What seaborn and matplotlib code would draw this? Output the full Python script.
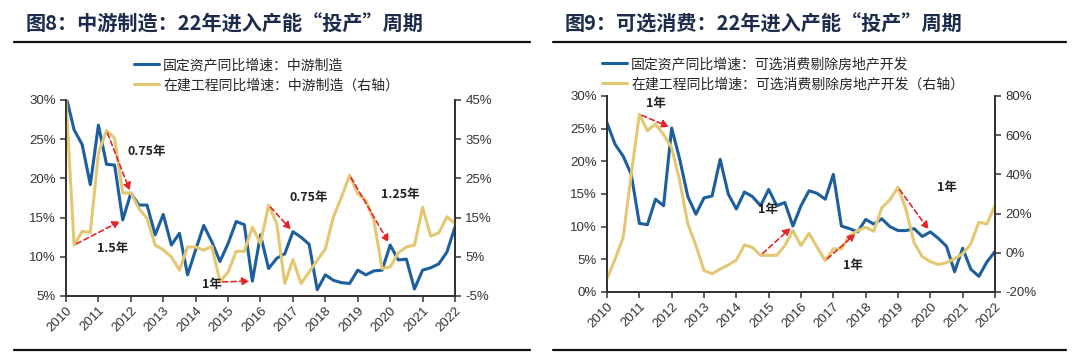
import numpy as np
import matplotlib
matplotlib.use("Agg")
import matplotlib.pyplot as plt
from matplotlib.lines import Line2D
from matplotlib.ticker import PercentFormatter
import seaborn as sns

# quarterly points, 2010Q1 .. 2022Q1
quarters = np.arange(2010, 2022.01, 0.25)
years = list(range(2010, 2023))

# Fig 8: midstream manufacturing
mid_fai = [30.5, 26.2, 24.3, 19.2, 26.8, 21.8, 21.7, 14.7, 18.1, 16.6, 16.6, 12.8, 15.4, 11.5, 13.0, 7.7,
           10.9, 14.0, 11.9, 9.4, 11.7, 14.5, 14.1, 6.9, 12.8, 8.5, 9.8, 10.4, 13.2, 12.5, 11.6, 5.8,
           7.7, 7.0, 6.7, 6.6, 8.3, 7.7, 8.2, 8.3, 11.5, 9.6, 9.7, 5.9, 8.3, 8.6, 9.1, 10.6, 13.8]
mid_cip = [45.0, 8.0, 11.5, 11.2, 31.4, 37.2, 35.2, 21.3, 21.3, 17.3, 14.8, 8.0, 6.8, 5.0, 1.6, 7.5,
           7.5, 6.7, 7.7, -1.4, 1.1, 6.4, 6.4, 12.6, 8.4, 18.2, 13.5, -1.8, 4.3, -1.8, 1.1, 4.1,
           7.0, 15.2, 20.3, 25.8, 21.1, 19.4, 14.3, 2.0, 2.4, 6.0, 7.5, 8.0, 17.6, 10.3, 11.1, 15.2, 13.5]

# Fig 9: discretionary consumption ex real estate
con_fai = [25.9, 22.6, 20.8, 18.0, 10.5, 10.3, 14.2, 13.2, 25.1, 20.3, 14.6, 11.9, 14.4, 14.7, 20.3,
           15.0, 12.7, 15.3, 14.6, 13.2, 15.7, 13.2, 13.7, 10.1, 13.2, 15.5, 15.1, 14.2, 18.0,
           10.1, 9.7, 9.2, 11.1, 10.4, 11.2, 10.0, 9.4, 9.4, 9.7, 8.5, 9.2, 8.2, 7.0, 3.1, 6.7, 3.5, 2.4, 4.6, 6.2]
con_cip = [-13.3, -3.2, 7.8, 40.0, 70.7, 62.3, 65.7, 60.3, 53.6, 36.7, 14.7, 3.7, -9.0, -10.7, -8.3, -6.2,
           -3.7, 4.0, 2.7, -1.3, -1.3, -1.3, 3.7, 11.3, 3.7, 10.0, 2.7, -4.0, 2.0, 2.0, 8.6, 11.3,
           13.0, 11.0, 23.0, 27.0, 33.4, 22.0, 5.0, -2.0, -4.5, -6.0, -5.0, -3.0, -0.5, 4.5, 15.6, 14.7, 24.1]

# lag arrows: (cip index, fai index, label)
mid_lags = [(1, 7, "1.5年"), (5, 8, "0.75年"), (19, 23, "1年"), (25, 28, "0.75年"), (35, 40, "1.25年")]
con_lags = [(4, 8, "1年"), (19, 23, "1年"), (27, 31, "1年"), (36, 40, "1年")]

titles = ["图8：中游制造：22年进入产能“投产”周期", "图9：可选消费：22年进入产能“投产”周期"]
mid_labels = ["固定资产同比增速：中游制造", "在建工程同比增速：中游制造（右轴）"]
con_labels = ["固定资产同比增速：可选消费剔除房地产开发", "在建工程同比增速：可选消费剔除房地产开发（右轴）"]

BLUE = "#1c5f9c"
GOLD = "#e3c772"
RED = "#e0262b"
NAVY = "#1c2b4a"

sns.set_style("ticks")
plt.rcParams["font.family"] = ["Noto Sans CJK SC", "DejaVu Sans"]
plt.rcParams["axes.unicode_minus"] = False


def draw_panel(fig, rect, fai, cip, labels, lags, lims, rlims, ticks, rticks, text_pos, legend_pos):
    ax = fig.add_axes(rect)
    ax2 = ax.twinx()
    sns.lineplot(x=quarters, y=fai, ax=ax, color=BLUE, lw=2.2, legend=False)
    sns.lineplot(x=quarters, y=cip, ax=ax2, color=GOLD, lw=2.2, legend=False)

    ax.set_xlim(2010, 2022)
    ax.set_ylim(*lims)
    ax2.set_ylim(*rlims)
    ax.set_yticks(ticks)
    ax2.set_yticks(rticks)
    ax.yaxis.set_major_formatter(PercentFormatter(decimals=0))
    ax2.yaxis.set_major_formatter(PercentFormatter(decimals=0))
    ax.set_xticks(years)
    ax.set_xticklabels([str(y) for y in years], rotation=45, ha="right", rotation_mode="anchor")
    for a in (ax, ax2):
        a.spines["top"].set_visible(False)
        for s in ("left", "right", "bottom"):
            a.spines[s].set_color("#333333")
            a.spines[s].set_linewidth(1.3)
        a.tick_params(labelsize=9.5, colors="#333333", length=4, width=1.1)
        for lab in a.get_xticklabels() + a.get_yticklabels():
            lab.set_fontfamily("Liberation Sans")
    ax.tick_params(axis="x", pad=2)

    # dashed red lag arrows, cip point (right axis) -> fai point (left axis)
    for (ci, fi, txt), (tx, ty) in zip(lags, text_pos):
        ax2.annotate("", xy=(quarters[fi], fai[fi]), xycoords=ax.transData,
                     xytext=(quarters[ci], cip[ci]), textcoords=ax2.transData,
                     arrowprops=dict(arrowstyle="-|>", linestyle=(0, (3, 2)), color=RED,
                                     lw=1.2, mutation_scale=11, shrinkA=2, shrinkB=2))
        ax2.text(tx, ty, txt, transform=ax.transData, fontsize=9, fontweight="bold",
                 color="#222222", ha="center", va="center")

    handles = [Line2D([], [], color=BLUE, lw=2.2), Line2D([], [], color=GOLD, lw=2.2)]
    fig.legend(handles, labels, loc="upper left", bbox_to_anchor=legend_pos, frameon=False,
               fontsize=10, handlelength=1.8, handletextpad=0.3, labelspacing=0.45,
               borderpad=0, borderaxespad=0)
    ax.set_xlabel("")
    ax.set_ylabel("")
    ax2.set_ylabel("")
    return ax, ax2


fig = plt.figure(figsize=(10.8, 3.61), dpi=100)

draw_panel(fig, [66 / 1080, 1 - 296 / 361, 389 / 1080, 196 / 361], mid_fai, mid_cip, mid_labels, mid_lags,
           (5, 30), (-5, 45), range(5, 31, 5), range(-5, 46, 10),
           [(2011.45, 11.0), (2012.5, 23.4), (2014.5, 6.5), (2017.5, 17.6), (2020.3, 18.0)],
           (134 / 1080, 1 - 58 / 361))
draw_panel(fig, [607 / 1080, 1 - 292 / 361, 388 / 1080, 196 / 361], con_fai, con_cip, con_labels, con_lags,
           (0, 30), (-20, 80), range(0, 31, 5), range(-20, 81, 20),
           [(2011.5, 28.9), (2014.97, 12.7), (2017.6, 4.1), (2020.5, 16.0)],
           (602 / 1080, 1 - 57 / 361))

# titles and rules
for x0, x1, tx, title in [(14, 530, 26, titles[0]), (553, 1066, 565, titles[1])]:
    fig.text(tx / 1080, 1 - 24 / 361, title, fontsize=14.5, fontweight="bold", color=NAVY,
             ha="left", va="center")
    for y in (42, 350):
        fig.add_artist(Line2D([x0 / 1080, x1 / 1080], [1 - y / 361, 1 - y / 361],
                              transform=fig.transFigure, color="#111111", lw=1.6))

fig.savefig("out.png", dpi=100)
